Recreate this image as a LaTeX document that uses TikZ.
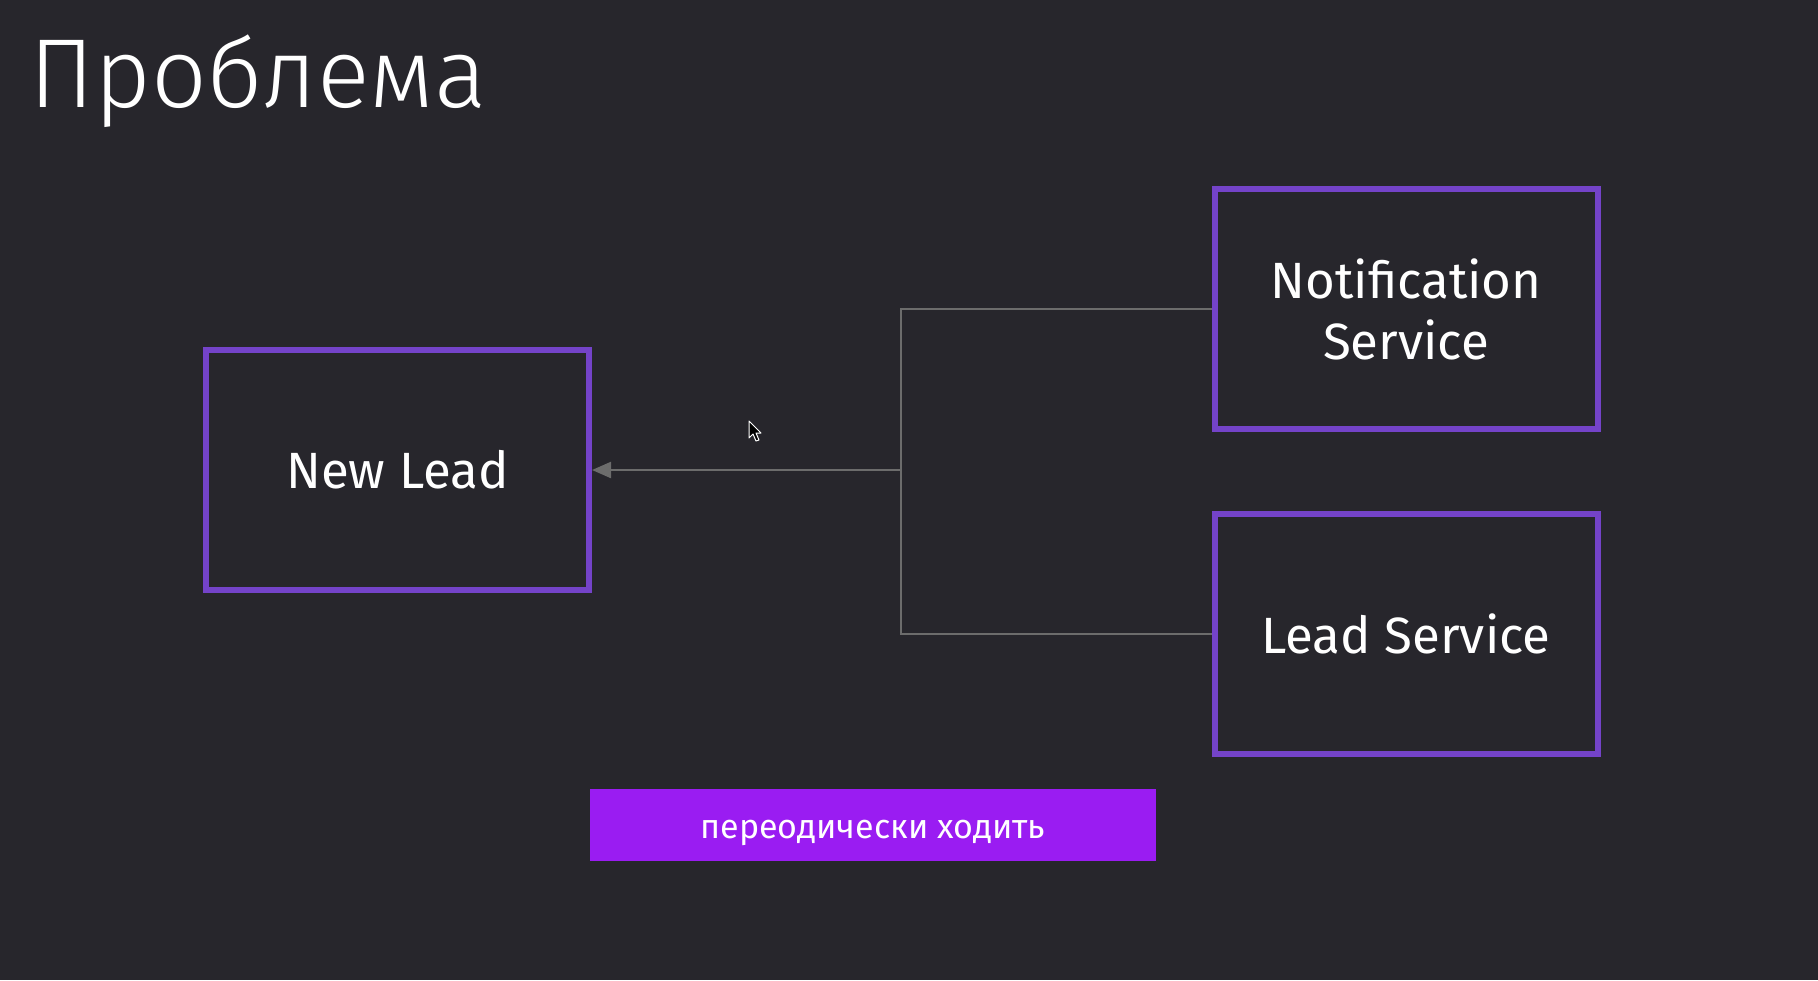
\documentclass[tikz,border=0pt]{standalone}
\usepackage{fontspec}
\setmainfont{Fira Sans}
\newfontfamily\titlefont{Fira Sans Light}
\usetikzlibrary{arrows.meta}
\definecolor{bgc}{HTML}{27262C}
\definecolor{boxc}{HTML}{7443C9}
\definecolor{connc}{HTML}{6C6C6C}
\definecolor{tagc}{HTML}{9A1CF2}
\tikzset{
  svcbox/.style={draw=boxc, line width=6pt, fill=bgc, minimum width=383pt, minimum height=240pt, text=white, font=\fontsize{51}{61}\selectfont, align=center, inner sep=0pt},
  conn/.style={draw=connc, line width=2.2pt},
  tag/.style={fill=tagc, minimum width=566pt, minimum height=72pt, text=white, font=\fontsize{34}{38}\selectfont, inner sep=0pt, text depth=0pt, text height=27pt}
}
\begin{document}
\begin{tikzpicture}[x=1pt,y=-1pt]
\fill[bgc] (0,0) rectangle (1818,980);
\useasboundingbox (0,0) rectangle (1818,980);
\node[anchor=base west, inner sep=0pt, text=white, font=\titlefont\fontsize{98}{110}\selectfont] (title) at (29,107) {Проблема};
\node[svcbox] (newlead) at (397.5,470) {New Lead};
\node[svcbox] (notif) at (1406,309) {Notification\\Service};
\node[svcbox] (leadsvc) at (1406,634) {Lead Service};
\coordinate (j) at (901,470);
\draw[conn] (notif.west) -| (j);
\draw[conn] (leadsvc.west) -| (j);
\draw[conn, -{Triangle[length=19pt,width=16pt]}] (j) -- (newlead.east);
\node[tag] (periodic) at (873,825) {переодически ходить};
\filldraw[fill=black, draw=white, line width=1pt, line join=round] (749,421) -- (749,438) -- (753,434) -- (756,441) -- (759,440) -- (756,433) -- (761,433) -- cycle;
\end{tikzpicture}
\end{document}
